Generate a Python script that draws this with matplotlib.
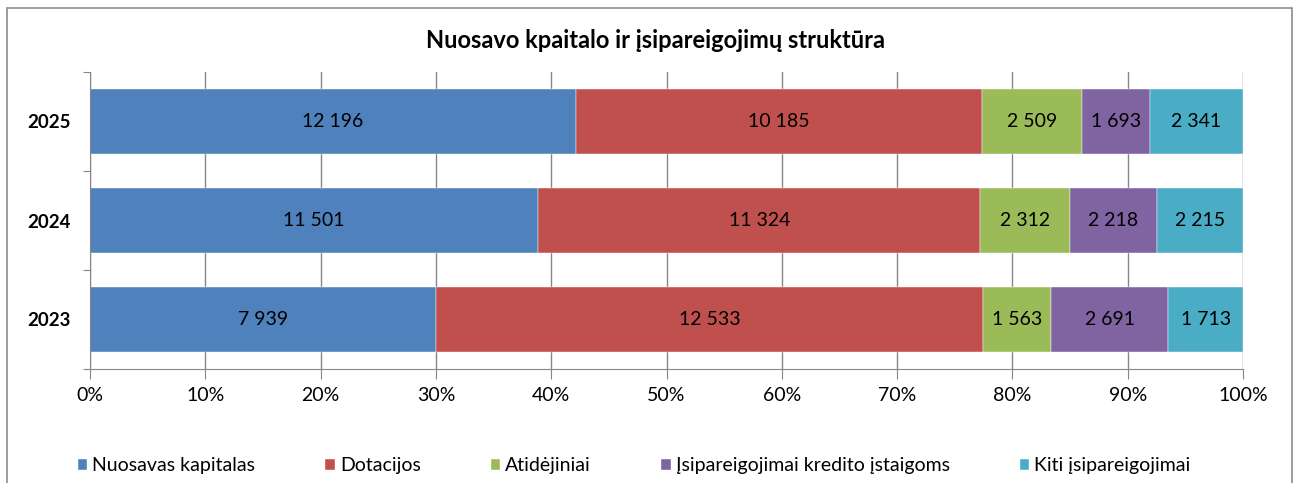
import matplotlib.pyplot as plt
import numpy as np
from matplotlib.patches import Rectangle

plt.rcParams['font.family'] = ['Lato', 'DejaVu Sans']

years = ["2023", "2024", "2025"]
series = ["Nuosavas kapitalas", "Dotacijos", "Atidėjiniai",
          "Įsipareigojimai kredito įstaigoms", "Kiti įsipareigojimai"]
nuosavas = [7939, 11501, 12196]
dotacijos = [12533, 11324, 10185]
atidejiniai = [1563, 2312, 2509]
kredito = [2691, 2218, 1693]
kiti = [1713, 2215, 2341]
colors = ["#4F81BD", "#C0504D", "#9BBB59", "#8064A2", "#4BACC6"]

data = np.array([nuosavas, dotacijos, atidejiniai, kredito, kiti], dtype=float)
shares = data / data.sum(axis=0)

fig = plt.figure(figsize=(12.98, 4.83), dpi=100)
fig.patches.append(Rectangle((7 / 1298, -0.1), 1285 / 1298, 1.1 - 8 / 483,
                             transform=fig.transFigure, fill=False,
                             edgecolor="#8c8c8c", linewidth=1.2))

ax = fig.add_axes([90 / 1298, 1 - 369 / 483, 1153 / 1298, 297 / 483])
y = np.arange(len(years))
left = np.zeros(len(years))
for i in range(len(series)):
    ax.barh(y, shares[i], 0.66, left=left, color=colors[i], label=series[i],
            edgecolor="white", linewidth=0.3, zorder=2)
    for j in range(len(years)):
        txt = f"{int(data[i, j]):,}".replace(",", " ")
        ax.text(left[j] + shares[i, j] / 2, y[j], txt, ha="center", va="center",
                fontsize=14, color="black", zorder=3)
    left += shares[i]

ax.set_xlim(0, 1)
ax.set_ylim(-0.5, 2.5)
ax.set_xticks(np.linspace(0, 1, 11))
ax.set_xticklabels([f"{int(v)}%" for v in np.linspace(0, 100, 11)], fontsize=14)
ax.tick_params(axis="x", length=7, color="#868686", pad=6)
ax.grid(axis="x", color="#868686", linewidth=1, zorder=0)
ax.set_axisbelow(True)

ax.set_yticks([-0.5, 0.5, 1.5, 2.5])
ax.set_yticklabels([])
ax.tick_params(axis="y", which="major", length=5, color="#868686")
ax.set_yticks(y, minor=True)
ax.set_yticklabels(years, minor=True, fontsize=13.5, fontweight="bold")
ax.tick_params(axis="y", which="minor", length=0, pad=14)

for s in ["top", "right"]:
    ax.spines[s].set_visible(False)
for s in ["left", "bottom"]:
    ax.spines[s].set_color("#868686")

fig.text(656 / 1298, 1 - 40 / 483, "Nuosavo kpaitalo ir įsipareigojimų struktūra",
         ha="center", va="center", fontsize=17, fontweight="bold")

fig.legend(loc="center", bbox_to_anchor=(634 / 1298, 1 - 466 / 483), ncol=5, frameon=False,
           fontsize=14, handlelength=0.5, handleheight=0.5, handletextpad=0.25,
           columnspacing=3.6)

fig.savefig("out.png", dpi=100)
